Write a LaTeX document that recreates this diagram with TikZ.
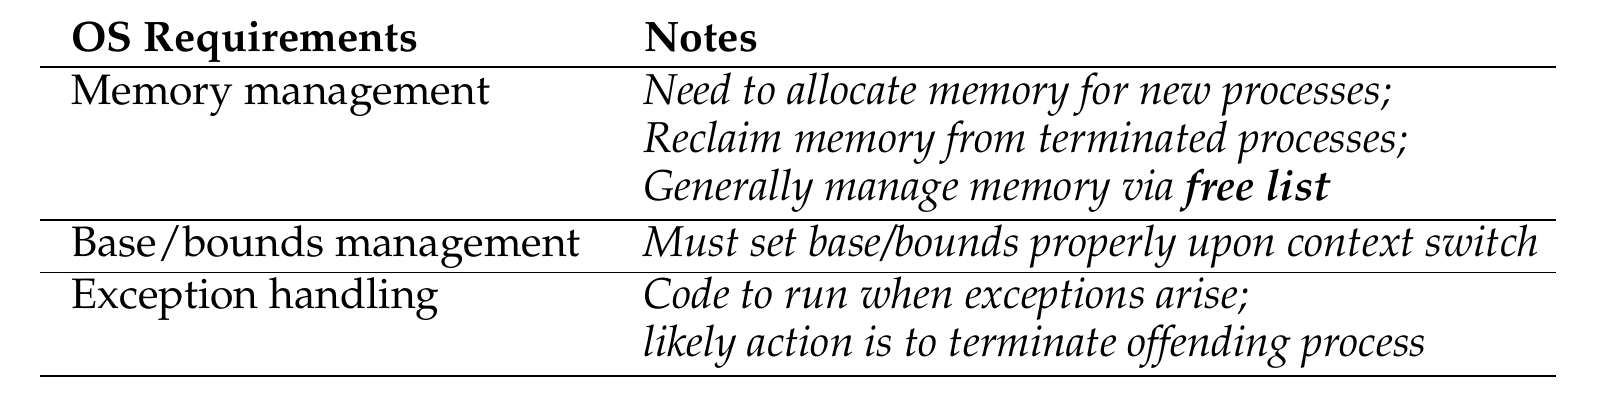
\documentclass[tikz,border=0pt]{standalone}
\usepackage[T1]{fontenc}
\usepackage{mathpazo}
\begin{document}
\begin{tikzpicture}[x=0.5pt,y=-0.5pt,
  cell/.style={anchor=base west,inner sep=0pt,font=\fontsize{21.3}{24}\selectfont},
  head/.style={cell,font=\fontsize{21.3}{24}\selectfont\bfseries},
  note/.style={cell,font=\fontsize{21.6}{24}\selectfont\itshape},
  heavyrule/.style={line width=1.0pt},
  lightrule/.style={line width=0.7pt}]
\useasboundingbox (0,0) rectangle (1602,412);
\node[head] (h1) at (71,51) {OS Requirements};
\node[head] (h2) at (644,51) {Notes};
\draw[heavyrule] (40,66.7) -- (1556,66.7);
\node[cell] (r1) at (71,104) {Memory management};
\node[note] (n1a) at (643,104) {Need to allocate memory for new processes;};
\node[note] (n1b) at (643,152) {Reclaim memory from terminated processes;};
\node[note] (n1c) at (643,200) {Generally manage memory via \textbf{free list}};
\draw[lightrule] (40,220) -- (1556,220);
\node[cell] (r2) at (71,256.5) {Base/bounds management};
\node[note] (n2) at (643,256.5) {Must set base/bounds properly upon context switch};
\draw[lightrule] (40,272.5) -- (1556,272.5);
\node[cell] (r3) at (71,308) {Exception handling};
\node[note] (n3a) at (643,308) {Code to run when exceptions arise;};
\node[note] (n3b) at (643,356) {likely action is to terminate offending process};
\draw[heavyrule] (40,375.5) -- (1556,375.5);
\end{tikzpicture}
\end{document}
